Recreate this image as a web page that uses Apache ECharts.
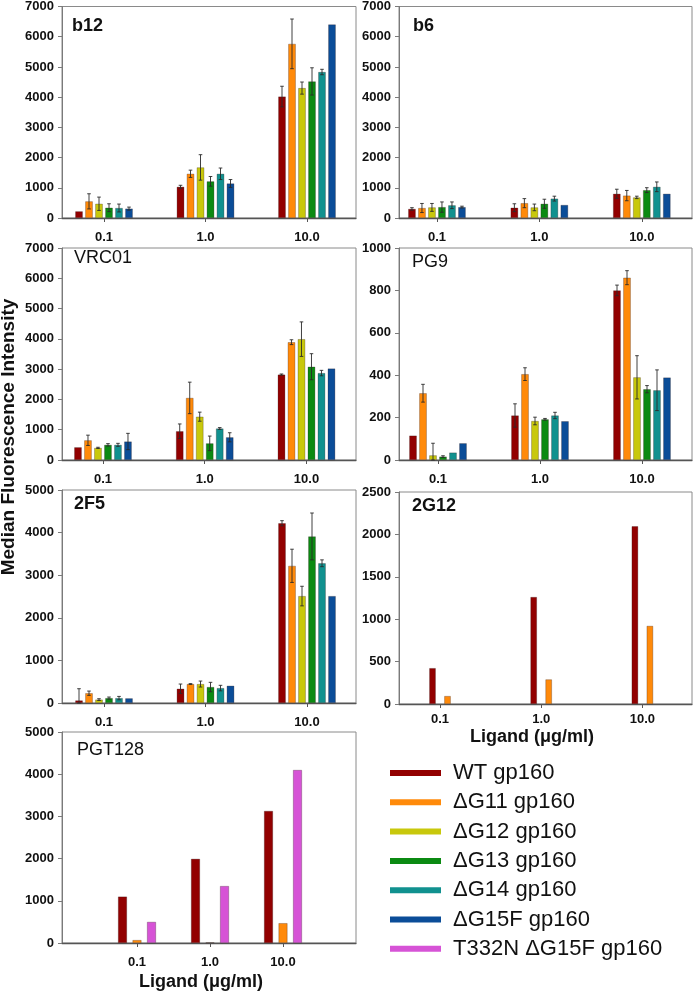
<!DOCTYPE html>
<html><head><meta charset="utf-8">
<script src="https://cdn.jsdelivr.net/npm/echarts@6/dist/echarts.min.js"></script>
<style>html,body{margin:0;padding:0;background:#fff}#c{width:693px;height:992px}</style>
</head><body><div id="c"></div>
<script>
// ---------- data ----------
const categories = ['0.1', '1.0', '10.0'];
const seriesNames = ['WT gp160', 'ΔG11 gp160', 'ΔG12 gp160', 'ΔG13 gp160', 'ΔG14 gp160', 'ΔG15F gp160', 'T332N ΔG15F gp160'];
const seriesColors = ['#920000', '#ff8a0a', '#c8c80c', '#0b8a12', '#11918f', '#0b4d98', '#d653d6'];

// rows = series (WT, ΔG11, ΔG12, ΔG13, ΔG14, ΔG15F), cols = categories
const b12Mean = [[220, 1030, 4010], [550, 1460, 5750], [470, 1670, 4290], [340, 1210, 4510], [330, 1460, 4820], [310, 1140, 6390]];
const b12Err  = [[0, 50, 340], [250, 120, 820], [220, 420, 200], [130, 160, 450], [130, 190, 90], [50, 130, 0]];

const b6Mean = [[300, 340, 800], [330, 490, 740], [350, 350, 680], [360, 470, 920], [420, 640, 1030], [360, 430, 800]];
const b6Err  = [[40, 130, 150], [150, 150, 170], [130, 110, 40], [170, 150, 80], [110, 80, 160], [30, 0, 0]];

const vrc01Mean = [[420, 950, 2820], [650, 2050, 3890], [400, 1430, 3990], [500, 550, 3080], [500, 1040, 2870], [610, 750, 3020]];
const vrc01Err  = [[0, 240, 20], [170, 520, 80], [20, 150, 570], [40, 240, 430], [50, 30, 90], [270, 150, 0]];

const pg9Mean = [[115, 210, 800], [315, 405, 860], [22, 184, 390], [16, 192, 334], [35, 210, 329], [79, 183, 389]];
const pg9Err  = [[0, 55, 25], [42, 30, 33], [57, 18, 102], [4, 4, 17], [0, 15, 96], [0, 0, 0]];

const f2f5Mean = [[60, 335, 4220], [230, 445, 3220], [80, 445, 2510], [115, 375, 3910], [115, 350, 3280], [110, 405, 2510]];
const f2f5Err  = [[275, 110, 60], [50, 10, 390], [20, 70, 230], [25, 110, 550], [40, 65, 80], [0, 0, 0]];

// 2G12: WT, ΔG11
const g2g12Mean = [[423, 1262, 2096], [94, 290, 921]];
// PGT128: WT, ΔG11, T332N ΔG15F
const pgt128Mean = [[1100, 1995, 3130], [70, 15, 470], [500, 1350, 4100]];

const axisLabelText = 'Ligand (μg/ml)';
const yTitleText = 'Median Fluorescence Intensity';

// ---------- layout ----------
const FF = '"Liberation Sans", Arial, sans-serif';
const panels = [
  {title: 'b12', bold: true, tx: 72, ty: 17, mean: b12Mean, err: b12Err, ser: [0,1,2,3,4,5], max: 7000, interval: 1000,
   frame: [62, 6, 294, 212], bar: [53.25, 304.5], bw: 7.5, gap: 2.5, lm: 13},
  {title: 'b6', bold: true, tx: 413, ty: 17, mean: b6Mean, err: b6Err, ser: [0,1,2,3,4,5], max: 7000, interval: 1000,
   frame: [399, 6, 293, 212], bar: [385.75, 307.5], bw: 7.5, gap: 2.5, lm: 13},
  {title: 'VRC01', bold: false, tx: 74, ty: 249, mean: vrc01Mean, err: vrc01Err, ser: [0,1,2,3,4,5], max: 7000, interval: 1000,
   frame: [62, 248, 294, 212], bar: [52.1, 305.25], bw: 7.5, gap: 2.5, lm: 13},
  {title: 'PG9', bold: false, tx: 412, ty: 253, mean: pg9Mean, err: pg9Err, ser: [0,1,2,3,4,5], max: 1000, interval: 200,
   frame: [399, 248, 293, 212], bar: [387, 306], bw: 7.5, gap: 2.5, lm: 13},
  {title: '2F5', bold: true, tx: 74, ty: 495, mean: f2f5Mean, err: f2f5Err, ser: [0,1,2,3,4,5], max: 5000, interval: 1000,
   frame: [62, 490, 294, 213], bar: [53.25, 304.5], bw: 7.5, gap: 2.5, lm: 13},
  {title: '2G12', bold: true, tx: 412, ty: 497, mean: g2g12Mean, err: null, ser: [0,1], max: 2500, interval: 500,
   frame: [399, 492, 293, 212], bar: [389.4, 303.75], bw: 6.5, gap: 8.5, lm: 9},
  {title: 'PGT128', bold: false, tx: 77, ty: 741, mean: pgt128Mean, err: null, ser: [0,1,6], max: 5000, interval: 1000,
   frame: [62, 732, 294, 211], bar: [100.5, 219], bw: 9, gap: 5.5, lm: 13}
];

const grid = [], xAxis = [], yAxis = [], series = [], title = [];
panels.forEach((p, i) => {
  const fi = 2 * i, bi = 2 * i + 1;
  const [l, t, w, h] = p.frame;
  grid.push({left: l, top: t, width: w, height: h, show: true, borderColor: '#8a8a8a', borderWidth: 1, backgroundColor: 'transparent'});
  grid.push({left: p.bar[0], top: t, width: p.bar[1], height: h});
  xAxis.push({gridIndex: fi, type: 'value', min: 0, max: 1,
    axisLine: {show: true, lineStyle: {color: '#555', width: 1.3}}, axisTick: {show: false}, axisLabel: {show: false}, splitLine: {show: false}});
  xAxis.push({gridIndex: bi, type: 'category', data: categories,
    axisLine: {show: true, lineStyle: {color: 'rgba(0,0,0,0)'}},
    axisTick: {show: true, alignWithLabel: true, length: 4, lineStyle: {color: '#555'}},
    axisLabel: {fontSize: 13, fontWeight: 'bold', color: '#111', fontFamily: FF, margin: p.lm},
    splitLine: {show: false}});
  yAxis.push({gridIndex: fi, type: 'value', min: 0, max: p.max, interval: p.interval,
    axisLine: {show: true, lineStyle: {color: '#7a7a7a'}},
    axisTick: {show: true, length: 4, lineStyle: {color: '#7a7a7a'}},
    axisLabel: {fontSize: 13, fontWeight: 'bold', color: '#111', fontFamily: FF, margin: 8, formatter: v => String(v)},
    splitLine: {show: false}});
  yAxis.push({gridIndex: bi, type: 'value', min: 0, max: p.max, show: false, splitLine: {show: false}});

  const n = p.ser.length;
  const gapPct = (p.gap / p.bw * 100).toFixed(1) + '%';
  p.ser.forEach((s, k) => {
    series.push({
      type: 'bar', name: seriesNames[s], xAxisIndex: bi, yAxisIndex: bi,
      data: p.mean[k], barWidth: p.bw, barGap: gapPct,
      itemStyle: {color: seriesColors[s], borderColor: 'rgba(40,20,20,0.45)', borderWidth: 0.6},
      emphasis: {disabled: true}, animation: false
    });
  });
  if (p.err) {
    const errData = [];
    p.ser.forEach((s, k) => {
      categories.forEach((c, j) => { errData.push([j, p.mean[k][j], p.err[k][j], k]); });
    });
    const step = p.bw + p.gap;
    series.push({
      type: 'custom', xAxisIndex: bi, yAxisIndex: bi, z: 10, animation: false, silent: true,
      data: errData,
      renderItem: function (params, api) {
        const j = api.value(0), m = api.value(1), e = api.value(2), k = api.value(3);
        if (!e) return null;
        const c = api.coord([j, m]);
        const x = c[0] + (k - (n - 1) / 2) * step;
        const yt = api.coord([j, m + e])[1];
        const yb = api.coord([j, Math.max(0, m - e)])[1];
        const cap = 1.8;
        const st = {stroke: '#2a2a2a', lineWidth: 0.9};
        return {type: 'group', children: [
          {type: 'line', shape: {x1: x, y1: yt, x2: x, y2: yb}, style: st},
          {type: 'line', shape: {x1: x - cap, y1: yt, x2: x + cap, y2: yt}, style: st},
          {type: 'line', shape: {x1: x - cap, y1: yb, x2: x + cap, y2: yb}, style: st}
        ]};
      }
    });
  }
  title.push({text: p.title, left: p.tx, top: p.ty,
    textStyle: {fontSize: 18, fontWeight: p.bold ? 'bold' : 'normal', color: '#111', fontFamily: FF}, padding: 0});
});

const option = {
  backgroundColor: '#fff',
  animation: false,
  title: title,
  grid: grid, xAxis: xAxis, yAxis: yAxis, series: series,
  legend: {
    orient: 'vertical', left: 390, top: 762, padding: 0, itemWidth: 51, itemHeight: 6, itemGap: 7.3,
    icon: 'rect', selectedMode: false, data: seriesNames,
    itemStyle: {borderWidth: 0},
    textStyle: {fontSize: 22, fontFamily: FF, color: '#111', lineHeight: 22, padding: [0, 0, 0, 7]}
  },
  graphic: [
    {type: 'text', x: 9, y: 437, rotation: Math.PI / 2,
     style: {text: yTitleText, font: 'bold 19px ' + FF, fill: '#111', align: 'center', verticalAlign: 'middle', textAlign: 'center', textVerticalAlign: 'middle'}},
    {type: 'text', x: 532, y: 737,
     style: {text: axisLabelText, font: 'bold 18px ' + FF, fill: '#111', align: 'center', verticalAlign: 'middle', textAlign: 'center', textVerticalAlign: 'middle'}},
    {type: 'text', x: 201, y: 982,
     style: {text: axisLabelText, font: 'bold 18px ' + FF, fill: '#111', align: 'center', verticalAlign: 'middle', textAlign: 'center', textVerticalAlign: 'middle'}}
  ]
};
const chart = echarts.init(document.getElementById('c'), null, {renderer: 'canvas'});
chart.setOption(option);
</script>
</body></html>
